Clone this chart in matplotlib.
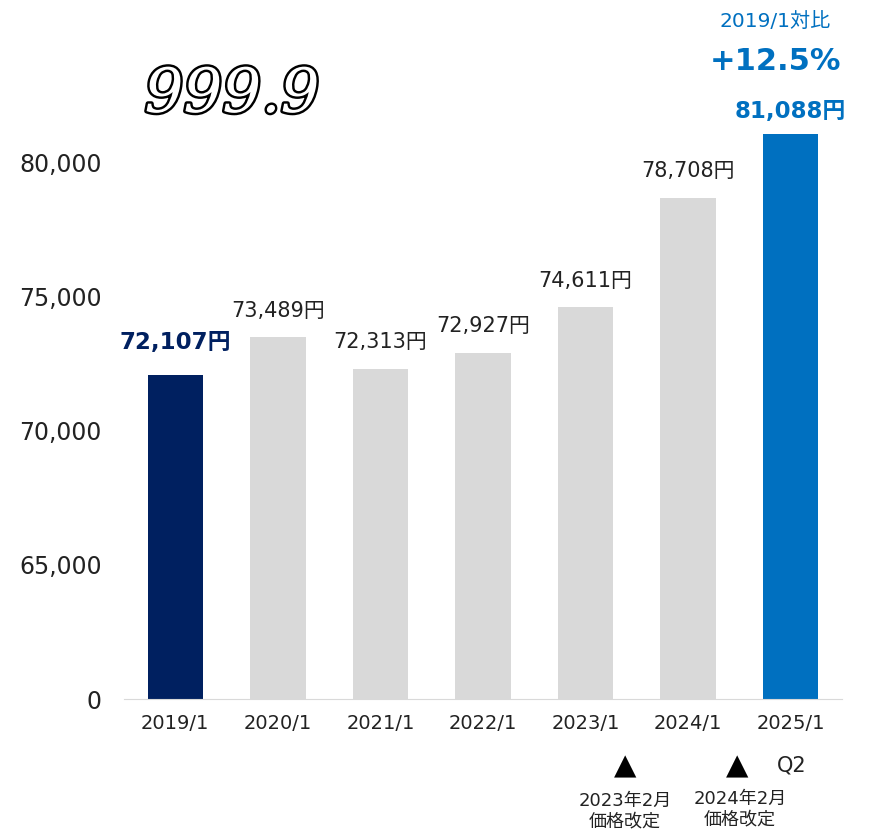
import matplotlib.pyplot as plt
import matplotlib.patheffects as pe
import numpy as np

plt.rcParams['font.family'] = ['DejaVu Sans', 'Noto Sans CJK JP']

periods = ['2019/1', '2020/1', '2021/1', '2022/1', '2023/1', '2024/1', '2025/1']
prices = [72107, 73489, 72313, 72927, 74611, 78708, 81088]
bar_colors = ['#002060', '#d9d9d9', '#d9d9d9', '#d9d9d9', '#d9d9d9', '#d9d9d9', '#0070c0']
ytick_vals = [60000, 65000, 70000, 75000, 80000]
ytick_text = ['0', '65,000', '70,000', '75,000', '80,000']
change_pct = 12.5

fig = plt.figure(figsize=(8.71, 8.32), dpi=100)
ax = fig.add_axes([124 / 871, 133 / 832, 718 / 871, 599 / 832])

x = np.arange(len(periods))
ax.bar(x, prices, width=0.54, color=bar_colors, zorder=2)
ax.set_xlim(-0.5, 6.5)
ax.set_ylim(60000, 82350)

ax.set_yticks(ytick_vals)
ax.set_yticklabels(ytick_text, fontsize=17, color='#222222')
ax.set_xticks(x)
ax.set_xticklabels(periods, fontsize=14, color='#222222')
ax.tick_params(axis='both', length=0)
ax.tick_params(axis='y', pad=16)
ax.tick_params(axis='x', pad=11)
for s in ['top', 'right', 'left']:
    ax.spines[s].set_visible(False)
ax.spines['bottom'].set_color('#d9d9d9')

# price labels over each bar
for i, v in enumerate(prices):
    txt = f'{v:,}円'
    if i == 0:
        ax.annotate(txt, (i, v), xytext=(0, 15), textcoords='offset points',
                    ha='center', va='bottom', fontsize=16.5, fontweight='bold', color='#002060')
    elif i == len(prices) - 1:
        ax.annotate(txt, (i, v), xytext=(0, 8), textcoords='offset points',
                    ha='center', va='bottom', fontsize=16.5, fontweight='bold', color='#0070c0')
    else:
        ax.annotate(txt, (i, v), xytext=(0, 12), textcoords='offset points',
                    ha='center', va='bottom', fontsize=15, color='#222222')

# comparison vs 2019/1
fig.text(775 / 871, 1 - 22 / 832, '2019/1対比', ha='center', va='center',
         fontsize=14.5, color='#0070c0')
fig.text(775 / 871, 1 - 62 / 832, f'+{change_pct}%', ha='center', va='center',
         fontsize=22, fontweight='bold', color='#0070c0')

# price revision markers
fig.text(625 / 871, 1 - 766 / 832, '▲', ha='center', va='center', fontsize=21, color='black')
fig.text(737 / 871, 1 - 766 / 832, '▲', ha='center', va='center', fontsize=21, color='black')
fig.text(792 / 871, 1 - 766 / 832, 'Q2', ha='center', va='center', fontsize=15, color='#222222')
fig.text(625 / 871, 1 - 811 / 832, '2023年2月\n価格改定', ha='center', va='center',
         fontsize=13, color='#222222', linespacing=1.15)
fig.text(740 / 871, 1 - 809 / 832, '2024年2月\n価格改定', ha='center', va='center',
         fontsize=13, color='#222222', linespacing=1.15)

# brand mark
fig.text(232 / 871, 1 - 95 / 832, '999.9', ha='center', va='center', fontsize=44,
         family='DejaVu Serif', style='italic', color='white',
         path_effects=[pe.withStroke(linewidth=3.5, foreground='black')])

fig.savefig('out.png', dpi=100)
